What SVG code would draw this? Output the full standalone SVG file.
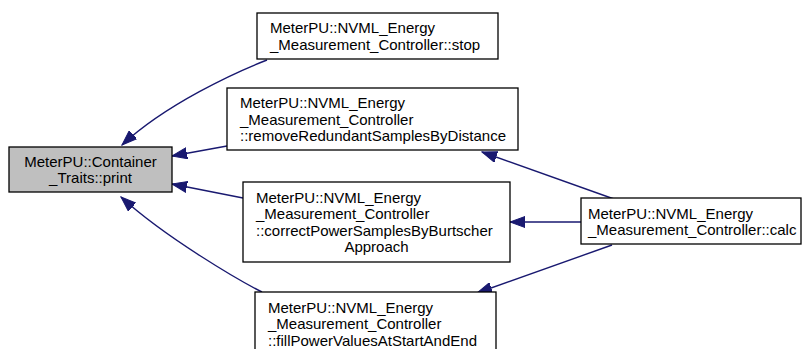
<svg xmlns="http://www.w3.org/2000/svg" width="804" height="349" viewBox="0 0 804 349">
<style>
  .box { fill: #ffffff; stroke: #000000; stroke-width: 1.3; }
  .cur { fill: #bfbfbf; stroke: #000000; stroke-width: 1.3; }
  .t { font-family: "Liberation Sans", Arial, sans-serif; font-size: 15px; fill: #000000; }
  .m { text-anchor: middle; }
  .e { fill: none; stroke: #191970; stroke-width: 1.4; marker-end: url(#ah); }
</style>
<defs>
  <marker id="ah" markerUnits="userSpaceOnUse" markerWidth="16" markerHeight="12" refX="15" refY="6" orient="auto">
    <path d="M0,0.5 L15,6 L0,11.5 Z" fill="#191970" stroke="#191970" stroke-width="1"/>
  </marker>
</defs>
<rect width="804" height="349" fill="#ffffff"/>
<g id="edges">
  <path class="e" d="M267,60 C236,72 166,104 122,145"/>
  <path class="e" d="M227,146 L172,156"/>
  <path class="e" d="M243,198 L172,184"/>
  <path class="e" d="M262,292 C240,281 166,238 121,197"/>
  <path class="e" d="M614,199 L482,152"/>
  <path class="e" d="M581,222 L510,222"/>
  <path class="e" d="M612,245 L477,293"/>
</g>
<g id="print">
  <rect class="cur" x="9" y="147" width="163" height="45"/>
  <text class="t m" x="90.5" y="166.5">MeterPU::Container</text>
  <text class="t m" x="90.5" y="183">_Traits::print</text>
</g>
<g id="stop">
  <rect class="box" x="257" y="13" width="241" height="46"/>
  <text class="t" x="270" y="33">MeterPU::NVML_Energy</text>
  <text class="t" x="270" y="49.5">_Measurement_Controller::stop</text>
</g>
<g id="remove">
  <rect class="box" x="227" y="88" width="291" height="62"/>
  <text class="t" x="240" y="108">MeterPU::NVML_Energy</text>
  <text class="t" x="240" y="124.5">_Measurement_Controller</text>
  <text class="t" x="240" y="141">::removeRedundantSamplesByDistance</text>
</g>
<g id="correct">
  <rect class="box" x="243" y="182" width="267" height="80"/>
  <text class="t" x="256" y="202.5">MeterPU::NVML_Energy</text>
  <text class="t" x="256" y="219">_Measurement_Controller</text>
  <text class="t" x="256" y="235.5">::correctPowerSamplesByBurtscher</text>
  <text class="t m" x="376.5" y="252">Approach</text>
</g>
<g id="fill">
  <rect class="box" x="255" y="292" width="241" height="62"/>
  <text class="t" x="268" y="312.5">MeterPU::NVML_Energy</text>
  <text class="t" x="268" y="329">_Measurement_Controller</text>
  <text class="t" x="268" y="345.5">::fillPowerValuesAtStartAndEnd</text>
</g>
<g id="calc">
  <rect class="box" x="581" y="198" width="220" height="46"/>
  <text class="t" x="588" y="218.5">MeterPU::NVML_Energy</text>
  <text class="t" x="588" y="235">_Measurement_Controller::calc</text>
</g>
</svg>
